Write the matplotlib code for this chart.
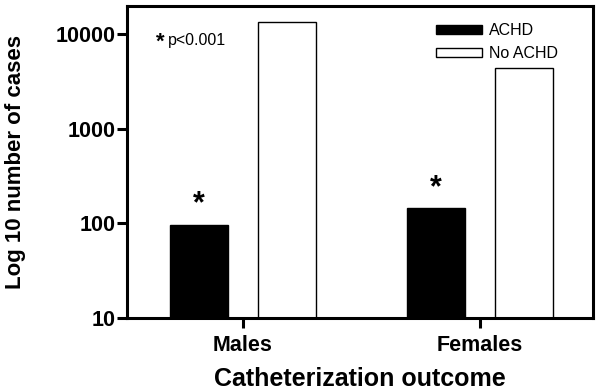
import numpy as np
import matplotlib
matplotlib.use("Agg")
import matplotlib.pyplot as plt

groups = ["Males", "Females"]
series = ["ACHD", "No ACHD"]
achd = [96, 144]
no_achd = [13600, 4360]
yticks = [10, 100, 1000, 10000]

plt.rcParams["font.family"] = ["Liberation Sans", "DejaVu Sans"]

fig = plt.figure(figsize=(6.0, 3.9), dpi=100)
ax = fig.add_axes([0.212, 0.185, 0.776, 0.80])

x = np.arange(len(groups))
w = 0.245
off = 0.186
b1 = ax.bar(x - off, achd, w, color="black", edgecolor="black", linewidth=1, label=series[0])
b2 = ax.bar(x + off, no_achd, w, color="white", edgecolor="black", linewidth=1, label=series[1])

# significance stars over the ACHD bars
for bar in b1:
    ax.annotate("*", (bar.get_x() + bar.get_width() / 2, bar.get_height()),
                xytext=(0, 4), textcoords="offset points", ha="center", va="bottom",
                fontsize=22, fontweight="bold")

ax.set_yscale("log")
ax.set_ylim(10, 20000)
ax.set_xlim(-0.489, 1.477)
ax.set_yticks(yticks)
ax.set_yticklabels([str(t) for t in yticks])
ax.minorticks_off()
ax.set_xticks(x)
ax.set_xticklabels(groups)

for s in ax.spines.values():
    s.set_linewidth(2.2)
ax.tick_params(axis="y", length=7, width=2.2, pad=1, labelsize=15.5)
ax.tick_params(axis="x", length=7, width=2.2, pad=5, labelsize=15.5)
for lbl in ax.get_yticklabels() + ax.get_xticklabels():
    lbl.set_fontweight("bold")

ax.set_ylabel("Log 10 number of cases", fontsize=16, fontweight="bold", labelpad=22)
ax.set_xlabel("Catheterization outcome", fontsize=18, fontweight="bold", labelpad=8)

ax.text(0.071, 0.885, "*", transform=ax.transAxes, fontsize=16, fontweight="bold",
        ha="center", va="center")
ax.text(0.088, 0.89, "p<0.001", transform=ax.transAxes, fontsize=11.5, va="center")

ax.legend(loc="upper left", bbox_to_anchor=(0.663, 0.945), frameon=False, fontsize=11.5,
          handlelength=2.9, handleheight=0.5, handletextpad=0.4, labelspacing=0.5,
          borderpad=0, borderaxespad=0)

fig.savefig("out.png", dpi=100)
